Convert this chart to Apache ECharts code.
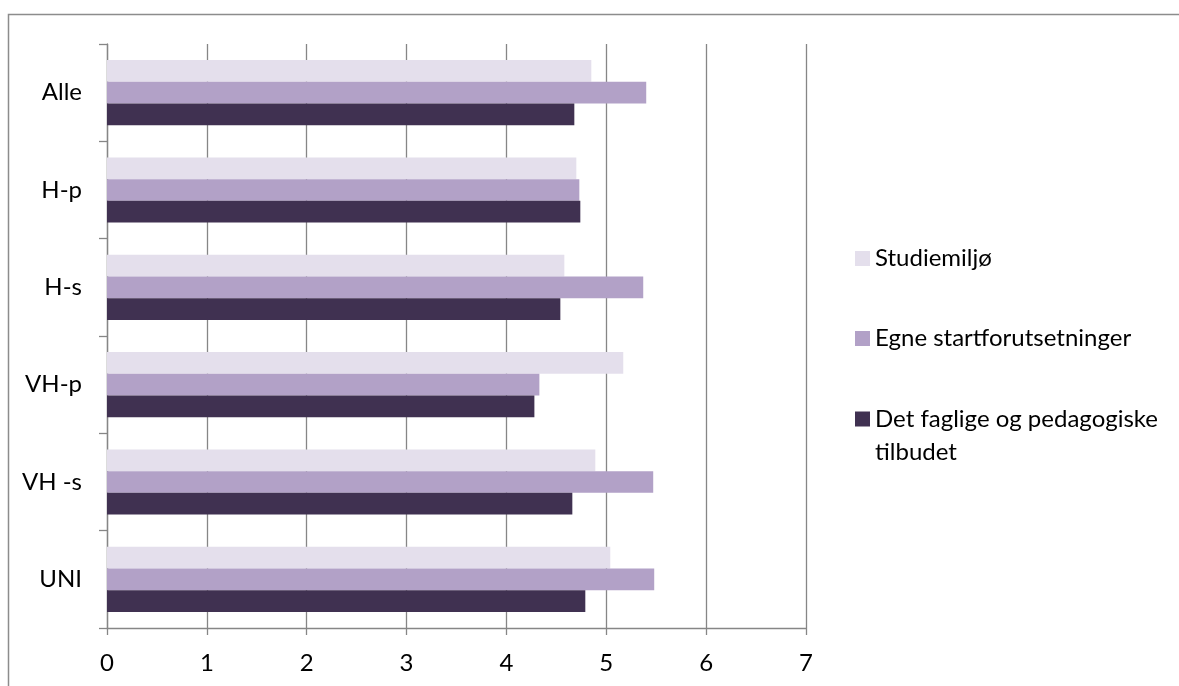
<!DOCTYPE html>
<html>
<head>
<meta charset="utf-8">
<script src="https://cdn.jsdelivr.net/npm/echarts@6/dist/echarts.min.js"></script>
<style>
  html, body { margin: 0; padding: 0; background: #fff; }
  #chart { width: 1179px; height: 686px; }
</style>
</head>
<body>
<div id="chart"></div>
<script>
// categories, bottom to top (echarts category y axis grows upward)
const categories = ['UNI', 'VH -s', 'VH-p', 'H-s', 'H-p', 'Alle'];
const xTicks = [0, 1, 2, 3, 4, 5, 6, 7];

const studiemiljo = [5.04, 4.89, 5.17, 4.58, 4.70, 4.85];
const startforutsetninger = [5.48, 5.47, 4.33, 5.37, 4.73, 5.40];
const faglige = [4.79, 4.66, 4.28, 4.54, 4.74, 4.68];

// series 0 is drawn at the top of each group
const seriesNames = ['Studiemiljø', 'Egne startforutsetninger', 'Det faglige og pedagogiske\ntilbudet'];
const colors = ['#E4DFEC', '#B2A1C7', '#403151'];

const FONT = 'Lato';
const FS = 24;
const chart = echarts.init(document.getElementById('chart'));

const legendAt = (name, top, label, lh) => ({
    data: [name],
    left: 855,
    top: top,
    padding: 0,
    itemWidth: 15,
    itemHeight: 15,
    itemGap: 0,
    icon: 'rect',
    selectedMode: false,
    formatter: () => label,
    textStyle: { fontFamily: FONT, fontSize: FS, color: '#000', lineHeight: lh }
});

chart.setOption({
    animation: false,
    backgroundColor: '#fff',
    color: colors,
    grid: { left: 107, right: 373, top: 44, bottom: 58, containLabel: false },
    xAxis: {
        type: 'value',
        min: 0,
        max: 7,
        interval: 1,
        axisLine: { show: true, lineStyle: { color: '#868686', width: 1.3 } },
        axisTick: { show: true, length: 7, lineStyle: { color: '#868686', width: 1.3 } },
        axisLabel: {
            margin: 23,
            fontFamily: FONT, fontSize: FS, color: '#000',
            formatter: v => xTicks.includes(v) ? String(v) : ''
        },
        splitLine: { show: true, lineStyle: { color: '#868686', width: 1.3 } }
    },
    yAxis: {
        type: 'category',
        data: categories,
        axisLine: { show: true, lineStyle: { color: '#868686', width: 1.3 } },
        axisTick: { show: true, length: 8, lineStyle: { color: '#868686', width: 1.3 } },
        axisLabel: { margin: 25, fontFamily: FONT, fontSize: FS, color: '#000' },
        splitLine: { show: false }
    },
    legend: [
        legendAt(seriesNames[0], 243.5, 'Studiemiljø', 30),
        legendAt(seriesNames[1], 323.5, 'Egne startforutsetninger', 30),
        // blank first line keeps the icon level with the first text line
        legendAt(seriesNames[2], 369.5, '\nDet faglige og pedagogiske\ntilbudet', 33)
    ],
    graphic: [{
        type: 'rect',
        shape: { x: 8.5, y: 14.5, width: 1200, height: 700 },
        style: { fill: 'none', stroke: '#8c8c8c', lineWidth: 1.5 },
        silent: true
    }],
    series: [
        { name: seriesNames[0], type: 'bar', data: studiemiljo, barGap: '0%', barCategoryGap: '33%' },
        { name: seriesNames[1], type: 'bar', data: startforutsetninger, barGap: '0%', barCategoryGap: '33%' },
        { name: seriesNames[2], type: 'bar', data: faglige, barGap: '0%', barCategoryGap: '33%' }
    ]
});
</script>
</body>
</html>
